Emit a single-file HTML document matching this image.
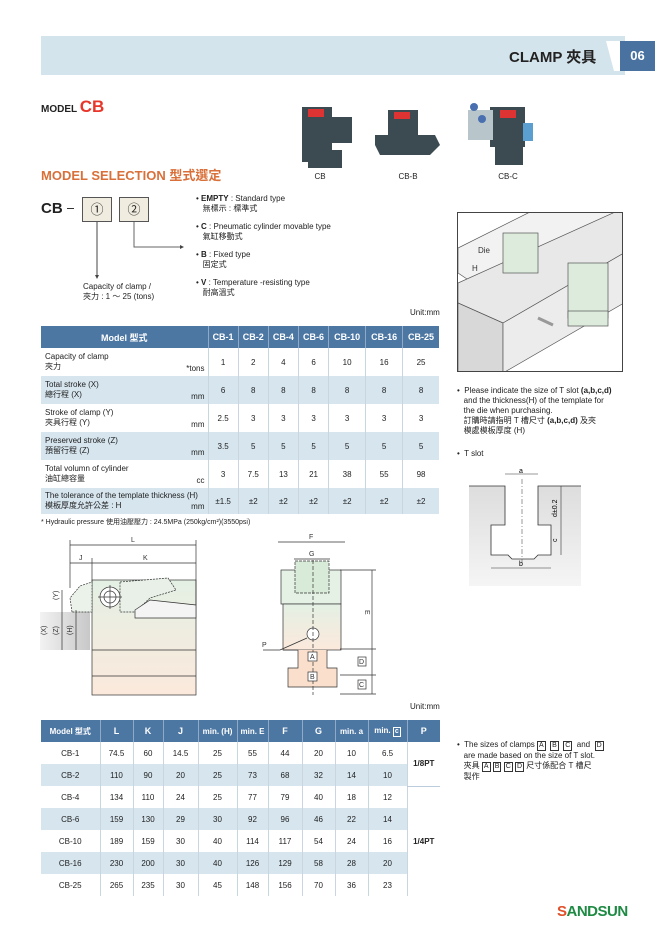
<!DOCTYPE html>
<html><head><meta charset="utf-8">
<style>
*{margin:0;padding:0;box-sizing:border-box}
body{width:672px;height:932px;background:#fff;position:relative;overflow:hidden;font-family:"Liberation Sans","Noto Sans CJK TC",sans-serif;color:#222}
.a{position:absolute}
.t{font-size:8px;line-height:10px}
table{border-collapse:collapse;position:absolute;font-size:8px;font-family:"Liberation Sans","Noto Sans CJK TC",sans-serif}
td,th{text-align:center;border-left:1px solid #c9d6df;padding:0}
th{background:#4d77a3;color:#fff;font-weight:bold;font-size:9px;border-left:1px solid #8fa9c6}
tr.b td{background:#d6e5ee}
.lt{text-align:left;padding-left:4px;line-height:10px;position:relative}
.u{position:absolute;right:3px;bottom:2px}
.bx{display:inline-block;border:1px solid #333;font-size:7px;line-height:8px;padding:0 1px}
</style></head><body>
<div class="a" style="left:41px;top:36px;width:584px;height:39px;background:#d4e4ec"></div>
<div class="a" style="left:606px;top:41px;width:20px;height:30px;background:#fff;clip-path:polygon(0 0,100% 0,100% 100%,40% 100%)"></div>
<div class="a" style="left:620px;top:41px;width:35px;height:30px;background:#4a72a0;color:#fff;font-size:13px;font-weight:bold;text-align:center;line-height:30px">06</div>
<div class="a" style="left:509px;top:46px;font-size:15px;font-weight:bold;color:#222">CLAMP 夾具</div>

<div class="a" style="left:41px;top:97px;font-size:10px;font-weight:bold">MODEL <span style="color:#e8362a;font-size:17px">CB</span></div>
<div class="a" style="left:41px;top:165px;font-size:13px;font-weight:bold;color:#d9703a">MODEL SELECTION 型式選定</div>

<svg class="a" style="left:290px;top:95px" width="260" height="90">
 <g fill="#3c4a52">
  <rect x="12" y="12" width="30" height="55" /><rect x="40" y="22" width="22" height="26"/><rect x="18" y="55" width="34" height="18"/>
  <rect x="98" y="15" width="30" height="34"/><polygon points="85,40 145,40 150,50 140,60 90,60 85,50"/>
  <rect x="200" y="12" width="35" height="40"/><rect x="205" y="50" width="28" height="20"/>
 </g>
 <rect x="18" y="14" width="16" height="8" fill="#d33"/><rect x="104" y="17" width="16" height="7" fill="#d33"/><rect x="210" y="15" width="16" height="8" fill="#d33"/>
 <rect x="178" y="15" width="25" height="30" fill="#b8c6cc"/><rect x="233" y="28" width="10" height="18" fill="#5b9fd0"/>
 <circle cx="184" cy="12" r="4" fill="#4a6fb0"/><circle cx="192" cy="24" r="4" fill="#4a6fb0"/>
 <text x="30" y="84" font-size="8" text-anchor="middle" fill="#222">CB</text>
 <text x="118" y="84" font-size="8" text-anchor="middle" fill="#222">CB-B</text>
 <text x="218" y="84" font-size="8" text-anchor="middle" fill="#222">CB-C</text>
</svg>

<div class="a" style="left:41px;top:200px;font-size:15px;font-weight:bold">CB</div>
<div class="a" style="left:67px;top:208px;width:7px;height:1px;background:#333"></div>
<div class="a" style="left:82px;top:197px;width:30px;height:25px;background:#f0ede0;border:1px solid #555;text-align:center;font-size:13px;line-height:23px">①</div>
<div class="a" style="left:119px;top:197px;width:30px;height:25px;background:#f0ede0;border:1px solid #555;text-align:center;font-size:13px;line-height:23px">②</div>
<svg class="a" style="left:0;top:0" width="200" height="290">
 <line x1="97" y1="222" x2="97" y2="276" stroke="#444"/><polygon points="95,275 99,275 97,279" fill="#444"/>
 <polyline points="134,222 134,247 180,247" fill="none" stroke="#666"/><polygon points="180,245 180,249 184,247" fill="#444"/>
</svg>
<div class="a t" style="left:83px;top:282px">Capacity of clamp /<br>夾力 : 1 ～ 25 (tons)</div>
<div class="a t" style="left:196px;top:194px">• <b>EMPTY</b> : Standard type<br>&nbsp;&nbsp;&nbsp;無標示 : 標準式</div>
<div class="a t" style="left:196px;top:222px">• <b>C</b> : Pneumatic cylinder movable type<br>&nbsp;&nbsp;&nbsp;氣缸移動式</div>
<div class="a t" style="left:196px;top:250px">• <b>B</b> : Fixed type<br>&nbsp;&nbsp;&nbsp;固定式</div>
<div class="a t" style="left:196px;top:278px">• <b>V</b> : Temperature -resisting type<br>&nbsp;&nbsp;&nbsp;耐高溫式</div>
<div class="a t" style="left:410px;top:308px">Unit:mm</div>

<table style="left:41px;top:326px;width:398px">
<tr style="height:22px"><th style="width:167px;border-left:none">Model 型式</th><th>CB-1</th><th>CB-2</th><th>CB-4</th><th>CB-6</th><th>CB-10</th><th>CB-16</th><th>CB-25</th></tr>
<tr style="height:28px"><td class="lt" style="border-left:none">Capacity of clamp<br>夾力<span class="u">*tons</span></td><td>1</td><td>2</td><td>4</td><td>6</td><td>10</td><td>16</td><td>25</td></tr>
<tr class="b" style="height:28px"><td class="lt" style="border-left:none">Total stroke (X)<br>總行程 (X)<span class="u">mm</span></td><td>6</td><td>8</td><td>8</td><td>8</td><td>8</td><td>8</td><td>8</td></tr>
<tr style="height:28px"><td class="lt" style="border-left:none">Stroke of clamp (Y)<br>夾具行程 (Y)<span class="u">mm</span></td><td>2.5</td><td>3</td><td>3</td><td>3</td><td>3</td><td>3</td><td>3</td></tr>
<tr class="b" style="height:28px"><td class="lt" style="border-left:none">Preserved stroke (Z)<br>預留行程 (Z)<span class="u">mm</span></td><td>3.5</td><td>5</td><td>5</td><td>5</td><td>5</td><td>5</td><td>5</td></tr>
<tr style="height:28px"><td class="lt" style="border-left:none">Total volumn of cylinder<br>油缸總容量<span class="u">cc</span></td><td>3</td><td>7.5</td><td>13</td><td>21</td><td>38</td><td>55</td><td>98</td></tr>
<tr class="b" style="height:26px"><td class="lt" style="border-left:none">The tolerance of the template thickness (H)<br>模板厚度允許公差 : H<span class="u">mm</span></td><td>±1.5</td><td>±2</td><td>±2</td><td>±2</td><td>±2</td><td>±2</td><td>±2</td></tr>
</table>
<div class="a" style="left:41px;top:517px;font-size:7px">* Hydraulic pressure 使用油壓壓力 : 24.5MPa (250kg/cm²)(3550psi)</div>

<svg class="a" style="left:0;top:530px" width="450" height="180" font-size="7" fill="none" stroke="#333" stroke-width="0.7">
 <defs><linearGradient id="g1" x1="0" y1="0" x2="0" y2="1"><stop offset="0" stop-color="#e4f0e4"/><stop offset="1" stop-color="#fbe9dc"/></linearGradient>
 <linearGradient id="g2" x1="0" y1="0" x2="1" y2="0"><stop offset="0" stop-color="#f2f2f2"/><stop offset="1" stop-color="#c8c8c8"/></linearGradient></defs>
 <rect x="40" y="82" width="50" height="38" fill="url(#g2)" stroke="none"/>
 <rect x="92" y="50" width="104" height="115" fill="url(#g1)"/>
 <line x1="92" y1="120" x2="196" y2="120"/><line x1="92" y1="146" x2="196" y2="146"/>
 <path d="M72,82 L70,68 L80,56 L92,52 L92,82 Z" fill="#eaf2ea" stroke-dasharray="2,1"/>
 <path d="M120,52 L168,48 L176,60 L150,68 L135,82 L120,82 Z" fill="#e8f0e8" stroke-dasharray="2,1"/>
 <path d="M135,80 L150,70 L196,75 L196,88 L135,88 Z" fill="#f4f4f4"/>
 <circle cx="110" cy="67" r="10" fill="#fff"/><circle cx="110" cy="67" r="6"/><line x1="98" y1="67" x2="122" y2="67"/><line x1="110" y1="55" x2="110" y2="79"/>
 <line x1="70" y1="15" x2="196" y2="15"/><line x1="70" y1="33" x2="196" y2="33"/>
 <line x1="70" y1="10" x2="70" y2="58"/><line x1="196" y1="10" x2="196" y2="75"/><line x1="92" y1="28" x2="92" y2="52"/>
 <text x="131" y="12" fill="#333" stroke="none">L</text>
 <text x="143" y="30" fill="#333" stroke="none">K</text><text x="79" y="30" fill="#333" stroke="none">J</text>
 <line x1="62" y1="60" x2="62" y2="120"/><line x1="76" y1="80" x2="76" y2="120"/>
 <text x="58" y="70" fill="#333" stroke="none" transform="rotate(-90 58 70)">(Y)</text>
 <text x="46" y="105" fill="#333" stroke="none" transform="rotate(-90 46 105)">(X)</text>
 <text x="58" y="105" fill="#333" stroke="none" transform="rotate(-90 58 105)">(Z)</text>
 <text x="72" y="105" fill="#333" stroke="none" transform="rotate(-90 72 105)">(H)</text>
 <rect x="281" y="40" width="60" height="34" fill="#e6f1e6"/>
 <rect x="295" y="31" width="34" height="32" fill="#d8ead8" stroke-dasharray="3,1"/>
 <rect x="283" y="74" width="58" height="46" fill="url(#g1)"/>
 <path d="M283,120 L298,120 L298,138 L288,138 L288,157 L337,157 L337,138 L327,138 L327,120" fill="#fae0cc"/>
 <circle cx="313" cy="104" r="6" fill="#fff"/>
 <line x1="313" y1="30" x2="313" y2="165" stroke-dasharray="4,2"/>
 <line x1="278" y1="12" x2="345" y2="12"/><line x1="294" y1="29" x2="330" y2="29"/>
 <text x="309" y="9" fill="#333" stroke="none">F</text><text x="309" y="26" fill="#333" stroke="none">G</text>
 <line x1="372" y1="40" x2="372" y2="164"/><line x1="340" y1="40" x2="376" y2="40"/><line x1="340" y1="119" x2="376" y2="119"/><line x1="340" y1="145" x2="376" y2="145"/><line x1="340" y1="164" x2="376" y2="164"/>
 <text x="365" y="80" fill="#333" stroke="none" transform="rotate(90 365 80)">E</text>
 <rect x="358" y="127" width="8" height="9" fill="#fff"/><text x="359" y="134" fill="#333" stroke="none">D</text>
 <rect x="358" y="150" width="8" height="9" fill="#fff"/><text x="359" y="157" fill="#333" stroke="none">C</text>
 <rect x="308" y="122" width="9" height="9" fill="#fff"/><text x="310" y="129" fill="#333" stroke="none">A</text>
 <rect x="308" y="142" width="9" height="9" fill="#fff"/><text x="310" y="149" fill="#333" stroke="none">B</text>
 <line x1="263" y1="120" x2="280" y2="120"/><line x1="280" y1="120" x2="307" y2="108"/>
 <text x="262" y="117" fill="#333" stroke="none">P</text>
</svg>
<div class="a t" style="left:410px;top:702px">Unit:mm</div>

<table style="left:41px;top:720px;width:399px;font-size:8px">
<tr style="height:22px"><th style="width:59px;border-left:none;font-size:8px">Model 型式</th><th style="width:33px">L</th><th style="width:30px">K</th><th style="width:35px">J</th><th style="width:39px;font-size:8px">min. (H)</th><th style="width:31px;font-size:8px">min. E</th><th style="width:34px">F</th><th style="width:33px">G</th><th style="width:33px;font-size:8px">min. a</th><th style="width:39px;font-size:8px">min. <span class="bx" style="border-color:#fff">c</span></th><th>P</th></tr>
<tr style="height:22px"><td style="border-left:none">CB-1</td><td>74.5</td><td>60</td><td>14.5</td><td>25</td><td>55</td><td>44</td><td>20</td><td>10</td><td>6.5</td><td rowspan="2" style="background:#fff;font-weight:bold;border-bottom:1px solid #bcd">1/8PT</td></tr>
<tr class="b" style="height:22px"><td style="border-left:none">CB-2</td><td>110</td><td>90</td><td>20</td><td>25</td><td>73</td><td>68</td><td>32</td><td>14</td><td>10</td></tr>
<tr style="height:22px"><td style="border-left:none">CB-4</td><td>134</td><td>110</td><td>24</td><td>25</td><td>77</td><td>79</td><td>40</td><td>18</td><td>12</td><td rowspan="5" style="background:#fff;font-weight:bold">1/4PT</td></tr>
<tr class="b" style="height:22px"><td style="border-left:none">CB-6</td><td>159</td><td>130</td><td>29</td><td>30</td><td>92</td><td>96</td><td>46</td><td>22</td><td>14</td></tr>
<tr style="height:22px"><td style="border-left:none">CB-10</td><td>189</td><td>159</td><td>30</td><td>40</td><td>114</td><td>117</td><td>54</td><td>24</td><td>16</td></tr>
<tr class="b" style="height:22px"><td style="border-left:none">CB-16</td><td>230</td><td>200</td><td>30</td><td>40</td><td>126</td><td>129</td><td>58</td><td>28</td><td>20</td></tr>
<tr style="height:22px"><td style="border-left:none">CB-25</td><td>265</td><td>235</td><td>30</td><td>45</td><td>148</td><td>156</td><td>70</td><td>36</td><td>23</td></tr>
</table>

<div class="a" style="left:457px;top:212px;width:166px;height:160px;border:1px solid #444;overflow:hidden">
<svg width="166" height="160" stroke="#555" stroke-width="0.7">
 <polygon points="0,35 110,-20 166,-20 166,10 30,80 0,60" fill="#f2f2f2"/>
 <polygon points="0,70 166,-5 166,40 45,110 0,90" fill="#e8e8e8"/>
 <polygon points="0,90 45,110 45,160 0,160" fill="#d8d8d8"/>
 <polygon points="45,110 166,40 166,90 45,160" fill="#ececec"/>
 <rect x="45" y="20" width="35" height="40" fill="#dcebdc"/>
 <rect x="110" y="50" width="40" height="55" fill="#dcebdc"/>
 <rect x="110" y="98" width="40" height="15" fill="#dcebdc"/>
 <line x1="95" y1="112" x2="80" y2="105" stroke="#999" stroke-width="3"/>
 <text x="20" y="40" font-size="8" fill="#333" stroke="none">Die</text>
 <text x="14" y="58" font-size="8" fill="#333" stroke="none">H</text>
</svg></div>
<div class="a t" style="left:457px;top:386px">•&nbsp; Please indicate the size of T slot <b>(a,b,c,d)</b><br>&nbsp;&nbsp;&nbsp;and the thickness(H) of the template for<br>&nbsp;&nbsp;&nbsp;the die when purchasing.<br>&nbsp;&nbsp;&nbsp;訂購時請指明 T 槽尺寸 <b>(a,b,c,d)</b> 及夾<br>&nbsp;&nbsp;&nbsp;模處模板厚度 (H)</div>
<div class="a t" style="left:457px;top:449px">•&nbsp; T slot</div>
<svg class="a" style="left:450px;top:465px" width="140" height="125" font-size="7">
 <defs><linearGradient id="g3" x1="0" y1="0" x2="0" y2="1"><stop offset="0" stop-color="#ddd"/><stop offset="1" stop-color="#f5f5f5"/></linearGradient></defs>
 <path d="M19,21 L55,21 L55,60 L41,60 L41,90 L58,90 L62,94 L84,94 L88,90 L101,90 L101,60 L88,60 L88,21 L131,21 L131,121 L19,121 Z" fill="url(#g3)"/>
 <path d="M19,21 L55,21 L55,60 L41,60 L41,90 L58,90 L62,94 L84,94 L88,90 L101,90 L101,60 L88,60 L88,21 L131,21" fill="none" stroke="#333" stroke-width="0.8"/>
 <line x1="72" y1="14" x2="72" y2="98" stroke="#555" stroke-dasharray="5,2,1,2" stroke-width="0.6"/>
 <line x1="55" y1="9" x2="88" y2="9" stroke="#333" stroke-width="0.6"/><text x="69" y="8">a</text>
 <line x1="41" y1="103" x2="101" y2="103" stroke="#333" stroke-width="0.6"/><text x="69" y="101">b</text>
 <line x1="111" y1="21" x2="111" y2="90" stroke="#333" stroke-width="0.6"/>
 <text x="107" y="52" transform="rotate(-90 107 52)">d±0.2</text><text x="107" y="77" transform="rotate(-90 107 77)">c</text>
</svg>
<div class="a t" style="left:457px;top:740px">•&nbsp; The sizes of clamps <span class="bx">A</span>&nbsp; <span class="bx">B</span>&nbsp; <span class="bx">C</span>&nbsp; and&nbsp; <span class="bx">D</span><br>&nbsp;&nbsp;&nbsp;are made based on the size of T slot.<br>&nbsp;&nbsp;&nbsp;夾具 <span class="bx">A</span> <span class="bx">B</span> <span class="bx">C</span> <span class="bx">D</span> 尺寸係配合 T 槽尺<br>&nbsp;&nbsp;&nbsp;製作</div>
<div class="a" style="left:557px;top:903px;font-size:15px;font-weight:bold;color:#1e8a43;letter-spacing:-0.5px"><span style="color:#e0502a">S</span>ANDS<span>UN</span></div>
</body></html>
